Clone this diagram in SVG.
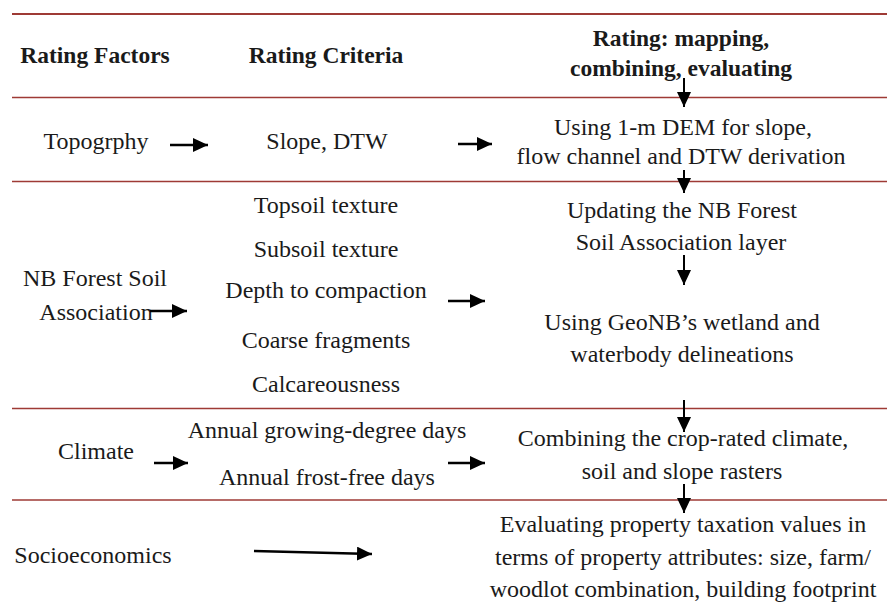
<svg xmlns="http://www.w3.org/2000/svg" width="887" height="609" viewBox="0 0 887 609">
  <style>
    text { font-family: "Liberation Serif", "Times New Roman", serif; font-size: 24px; fill: #1a1a1a; text-anchor: middle; }
    .head { font-weight: bold; font-size: 23.5px; }
    .rule { stroke: #9e3a35; stroke-width: 1.3; }
    .rule.top { stroke-width: 2; }
    .arrow { stroke: #000; stroke-width: 2.6; fill: none; marker-end: url(#head); }
    .down { stroke: #000; stroke-width: 2; fill: none; marker-end: url(#headDown); }
  </style>
  <defs>
    <marker id="head" viewBox="0 0 15 14" refX="15" refY="7" markerWidth="15" markerHeight="14" markerUnits="userSpaceOnUse" orient="auto">
      <path d="M0,0 L15,7 L0,14 Z" fill="#000"/>
    </marker>
    <marker id="headDown" viewBox="0 0 15 14" refX="15" refY="7" markerWidth="15" markerHeight="14" markerUnits="userSpaceOnUse" orient="auto">
      <path d="M0,0 L15,7 L0,14 Z" fill="#000"/>
    </marker>
  </defs>

  <rect width="887" height="609" fill="#fff"/>

  <!-- table rules -->
  <g id="rules">
    <line class="rule top" x1="12" y1="14" x2="887" y2="14"/>
    <line class="rule" x1="12" y1="97.5" x2="887" y2="97.5"/>
    <line class="rule" x1="12" y1="181.5" x2="887" y2="181.5"/>
    <line class="rule" x1="12" y1="408.5" x2="887" y2="408.5"/>
    <line class="rule" x1="12" y1="500" x2="887" y2="500"/>
  </g>

  <!-- column headings -->
  <g id="header">
    <text class="head" x="95" y="63">Rating Factors</text>
    <text class="head" x="326" y="63">Rating Criteria</text>
    <text class="head" x="681" y="46">Rating: mapping,</text>
    <text class="head" x="681" y="76">combining, evaluating</text>
  </g>

  <!-- rating factors -->
  <g id="factor-topography"><text x="96" y="149">Topogrphy</text></g>
  <g id="factor-soil">
    <text x="95" y="286">NB Forest Soil</text>
    <text x="96" y="320">Association</text>
  </g>
  <g id="factor-climate"><text x="96" y="459">Climate</text></g>
  <g id="factor-socio"><text x="93" y="563">Socioeconomics</text></g>

  <!-- rating criteria -->
  <g id="criteria-topography"><text x="327" y="149">Slope, DTW</text></g>
  <g id="criteria-soil">
    <text x="326" y="213">Topsoil texture</text>
    <text x="326" y="257">Subsoil texture</text>
    <text x="326" y="298">Depth to compaction</text>
    <text x="326" y="348">Coarse fragments</text>
    <text x="326" y="392">Calcareousness</text>
  </g>
  <g id="criteria-climate">
    <text x="327" y="438">Annual growing-degree days</text>
    <text x="327" y="485">Annual frost-free days</text>
  </g>

  <!-- processing steps -->
  <g id="step-dem">
    <text x="683" y="135">Using 1-m DEM for slope,</text>
    <text x="681" y="164">flow channel and DTW derivation</text>
  </g>
  <g id="step-soil-update">
    <text x="682" y="218">Updating the NB Forest</text>
    <text x="681" y="250">Soil Association layer</text>
  </g>
  <g id="step-wetland">
    <text x="682" y="330">Using GeoNB’s wetland and</text>
    <text x="682" y="362">waterbody delineations</text>
  </g>
  <g id="step-combine">
    <text x="683" y="446">Combining the crop-rated climate,</text>
    <text x="682" y="479">soil and slope rasters</text>
  </g>
  <g id="step-tax">
    <text x="683" y="532">Evaluating property taxation values in</text>
    <text x="683" y="565">terms of property attributes: size, farm/</text>
    <text x="683" y="597">woodlot combination, building footprint</text>
  </g>

  <!-- connectors -->
  <g id="connectors">
    <line class="arrow" x1="170" y1="145" x2="208" y2="145"/>
    <line class="arrow" x1="458" y1="144" x2="492" y2="144"/>
    <line class="arrow" x1="150" y1="311" x2="187" y2="311"/>
    <line class="arrow" x1="448" y1="301" x2="485" y2="301"/>
    <line class="arrow" x1="154" y1="463" x2="188" y2="463"/>
    <line class="arrow" x1="448" y1="463" x2="485" y2="463"/>
    <line class="arrow" x1="254" y1="551" x2="372" y2="554"/>
    <line class="down" x1="684" y1="78" x2="684" y2="107"/>
    <line class="down" x1="684" y1="170" x2="684" y2="193"/>
    <line class="down" x1="684" y1="255" x2="684" y2="285"/>
    <line class="down" x1="684" y1="400" x2="684" y2="432"/>
    <line class="down" x1="684" y1="484" x2="684" y2="513"/>
  </g>
</svg>
